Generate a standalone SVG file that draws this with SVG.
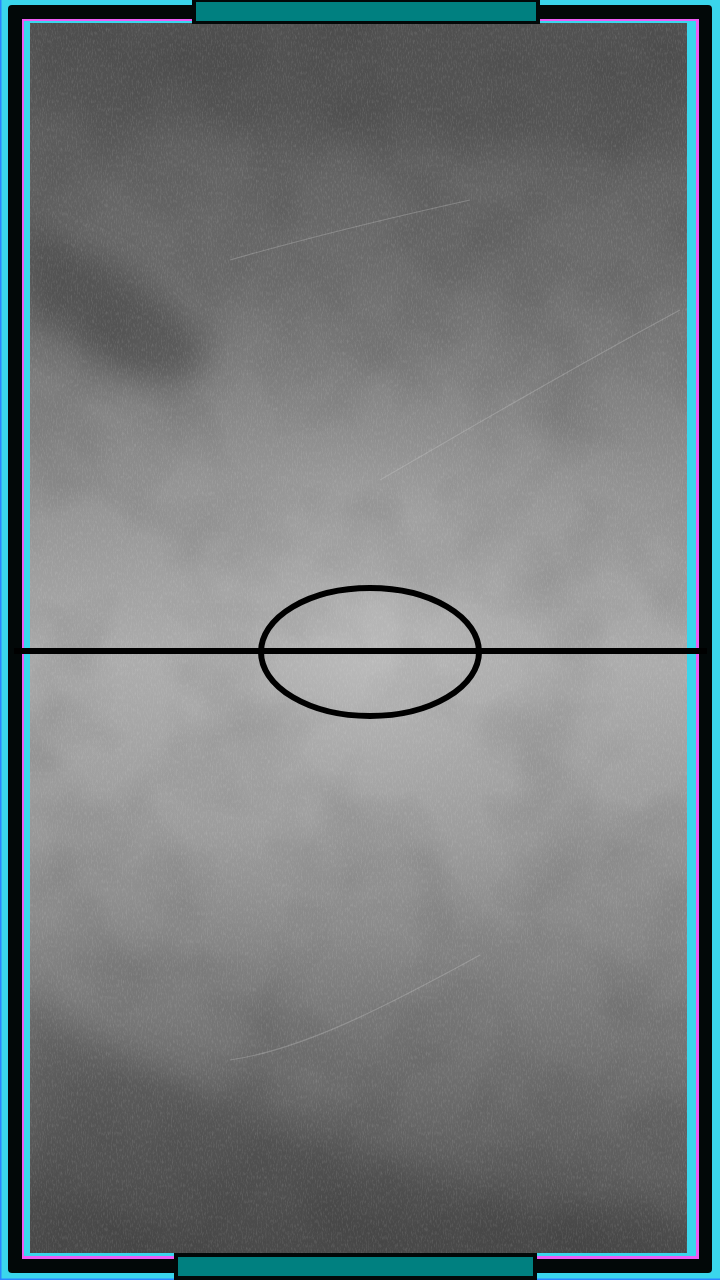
<svg xmlns="http://www.w3.org/2000/svg" width="720" height="1280" viewBox="0 0 720 1280">
  <style>
    .cyan{fill:#3ad6ec}
    .goal-frame{fill:#020808}
    .goal{fill:#008080}
    .mark{fill:none;stroke:#000;stroke-width:6}
  </style>
  <defs>
    <linearGradient id="vg" x1="0" y1="0" x2="0" y2="1">
      <stop offset="0" stop-color="#565656"/>
      <stop offset="0.2" stop-color="#6c6c6c"/>
      <stop offset="0.38" stop-color="#929292"/>
      <stop offset="0.52" stop-color="#acacac"/>
      <stop offset="0.66" stop-color="#9a9a9a"/>
      <stop offset="0.8" stop-color="#7a7a7a"/>
      <stop offset="1" stop-color="#505050"/>
    </linearGradient>
    <radialGradient id="rg" cx="0.52" cy="0.5" r="0.5" gradientTransform="translate(0.5 0.5) scale(1 0.55) translate(-0.5 -0.5)">
      <stop offset="0" stop-color="#cacaca" stop-opacity="0.55"/>
      <stop offset="0.6" stop-color="#b0b0b0" stop-opacity="0.15"/>
      <stop offset="1" stop-color="#b0b0b0" stop-opacity="0"/>
    </radialGradient>
    <filter id="fine" x="0" y="0" width="1" height="1">
      <feTurbulence type="fractalNoise" baseFrequency="0.8 0.25" numOctaves="2" seed="3"/>
      <feColorMatrix type="matrix" values="0 0 0 0 1  0 0 0 0 1  0 0 0 0 1  1.2 0 0 0 -0.55"/>
    </filter>
    <filter id="blotch" x="0" y="0" width="1" height="1">
      <feTurbulence type="fractalNoise" baseFrequency="0.01" numOctaves="3" seed="7"/>
      <feColorMatrix type="matrix" values="0 0 0 0 0  0 0 0 0 0  0 0 0 0 0  1.2 0 0 0 -0.5"/>
    </filter>
    <filter id="soft" x="-50%" y="-50%" width="200%" height="200%">
      <feGaussianBlur stdDeviation="18"/>
    </filter>
    <clipPath id="fieldClip"><rect x="30" y="23" width="657" height="1230"/></clipPath>
  </defs>

  <g id="frame">
    <rect x="0" y="0" width="720" height="1280" class="cyan"/>
    <rect x="0" y="0" width="1.5" height="1280" fill="#2a86ff"/>
    <rect x="0" y="1278.5" width="720" height="1.5" fill="#2a86ff"/>
    <rect x="8" y="5" width="704" height="1268" rx="4" fill="#020808"/>
    <rect x="22" y="19" width="677" height="1240" fill="#ee5cf4"/>
    <rect x="24" y="21" width="672" height="1235" class="cyan"/>
  </g>

  <g id="field" clip-path="url(#fieldClip)">
    <rect x="30" y="23" width="657" height="1230" fill="url(#vg)"/>
    <rect x="30" y="23" width="657" height="1230" fill="url(#rg)"/>
    <rect x="30" y="23" width="657" height="1230" filter="url(#blotch)" opacity="0.18"/>
    <path d="M20 230 C80 240 150 280 200 330 C220 370 190 395 150 385 C100 370 60 330 20 300 Z" fill="#383838" opacity="0.5" filter="url(#soft)"/>
    <path d="M20 1000 C200 1100 400 1180 700 1230 L700 1270 L20 1270 Z" fill="#3a3a3a" opacity="0.35" filter="url(#soft)"/>
    <path d="M20 20 L700 20 L700 160 C500 150 300 130 20 120 Z" fill="#404040" opacity="0.3" filter="url(#soft)"/>
    <rect x="30" y="23" width="657" height="1230" filter="url(#fine)" opacity="0.22"/>
    <g fill="none" stroke="#d0d0d0" stroke-opacity="0.3" stroke-width="1.2">
      <path d="M380 480 C450 440 550 380 680 310"/>
      <path d="M230 1060 C300 1050 380 1010 480 955"/>
      <path d="M230 260 C300 240 380 220 470 200"/>
    </g>
  </g>

  <g id="goal-top">
    <rect x="192" y="0" width="348" height="24" class="goal-frame"/>
    <rect x="196" y="2" width="340" height="19" class="goal"/>
  </g>
  <g id="goal-bottom">
    <rect x="174" y="1253" width="363" height="27" class="goal-frame"/>
    <rect x="178" y="1257" width="355" height="19" class="goal"/>
  </g>

  <g id="center-markings">
    <line x1="14" y1="651" x2="707" y2="651" class="mark"/>
    <ellipse cx="370" cy="652" rx="109" ry="64" class="mark"/>
  </g>
</svg>
